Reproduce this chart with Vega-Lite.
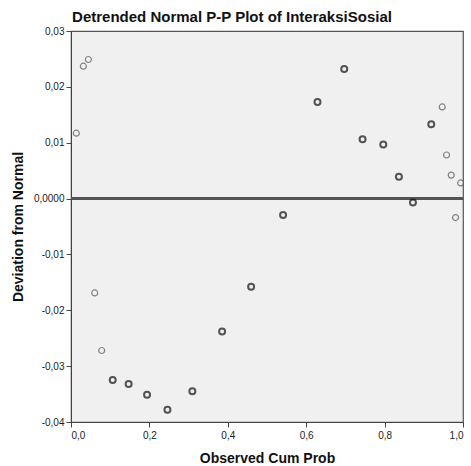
{
  "$schema": "https://vega.github.io/schema/vega-lite/v6.json",
  "width": 392,
  "height": 391,
  "autosize": "none",
  "padding": {"left": 71, "top": 31, "right": 8, "bottom": 44},
  "background": "white",
  "title": {
    "text": "Detrended Normal P-P Plot of InteraksiSosial",
    "frame": "group",
    "anchor": "middle",
    "dx": -35,
    "offset": 1,
    "font": "Liberation Sans",
    "fontSize": 15,
    "fontWeight": "bold",
    "color": "#111"
  },
  "config": {
    "view": {"fill": "#F0F0F0", "stroke": "#555", "strokeWidth": 1.2},
    "axis": {
      "labelFont": "Liberation Sans",
      "labelFontSize": 10,
      "labelColor": "#222",
      "titleFont": "Liberation Sans",
      "titleFontSize": 14,
      "titleFontWeight": "bold",
      "titleColor": "#111",
      "grid": false,
      "domainColor": "#444",
      "tickColor": "#444",
      "tickSize": 5
    }
  },
  "data": {
    "values": [
      {"p": 0.0135, "d": 0.0117, "n": 1},
      {"p": 0.0315, "d": 0.0237, "n": 1},
      {"p": 0.0443, "d": 0.0249, "n": 1},
      {"p": 0.0605, "d": -0.0169, "n": 1},
      {"p": 0.0783, "d": -0.0272, "n": 1},
      {"p": 0.1064, "d": -0.0325, "n": 2},
      {"p": 0.147, "d": -0.0332, "n": 2},
      {"p": 0.194, "d": -0.0351, "n": 2},
      {"p": 0.246, "d": -0.0378, "n": 2},
      {"p": 0.3096, "d": -0.0345, "n": 2},
      {"p": 0.3855, "d": -0.0238, "n": 2},
      {"p": 0.4595, "d": -0.0158, "n": 2},
      {"p": 0.541, "d": -0.00295, "n": 2},
      {"p": 0.6288, "d": 0.0173, "n": 2},
      {"p": 0.697, "d": 0.0232, "n": 2},
      {"p": 0.7438, "d": 0.0106, "n": 2},
      {"p": 0.7966, "d": 0.0097, "n": 2},
      {"p": 0.8365, "d": 0.0039, "n": 2},
      {"p": 0.8723, "d": -0.0007, "n": 2},
      {"p": 0.919, "d": 0.0133, "n": 2},
      {"p": 0.947, "d": 0.0164, "n": 1},
      {"p": 0.958, "d": 0.0078, "n": 1},
      {"p": 0.97, "d": 0.0042, "n": 1},
      {"p": 0.981, "d": -0.0034, "n": 1},
      {"p": 0.994, "d": 0.0028, "n": 1}
    ]
  },
  "layer": [
    {
      "mark": {"type": "rule", "color": "#555", "strokeWidth": 1.5},
      "encoding": {"y": {"datum": 0, "type": "quantitative"}}
    },
    {
      "mark": {"type": "point", "shape": "circle", "filled": false, "size": 36, "clip": true},
      "encoding": {
        "x": {
          "field": "p", "type": "quantitative",
          "scale": {"domain": [0, 1], "nice": false, "zero": false},
          "axis": {
            "values": [0, 0.2, 0.4, 0.6, 0.8, 1],
            "labelExpr": "replace(format(datum.value, '.1f'), '.', ',')",
            "title": "Observed Cum Prob",
            "titlePadding": 11,
            "labelPadding": 3
          }
        },
        "y": {
          "field": "d", "type": "quantitative",
          "scale": {"domain": [-0.04, 0.03], "nice": false, "zero": false},
          "axis": {
            "values": [-0.04, -0.03, -0.02, -0.01, 0, 0.01, 0.02, 0.03],
            "labelExpr": "datum.value == 0 ? '0,0000' : (datum.value < 0 ? '-' : '') + replace(format(abs(datum.value), '.2f'), '.', ',')",
            "title": "Deviation from Normal",
            "titlePadding": 8,
            "labelPadding": 2
          }
        },
        "stroke": {
          "field": "n", "type": "ordinal",
          "scale": {"domain": [1, 2], "range": ["#555", "#111"]},
          "legend": null
        },
        "strokeWidth": {
          "field": "n", "type": "ordinal",
          "scale": {"domain": [1, 2], "range": [1.2, 2]},
          "legend": null
        }
      }
    }
  ]
}
